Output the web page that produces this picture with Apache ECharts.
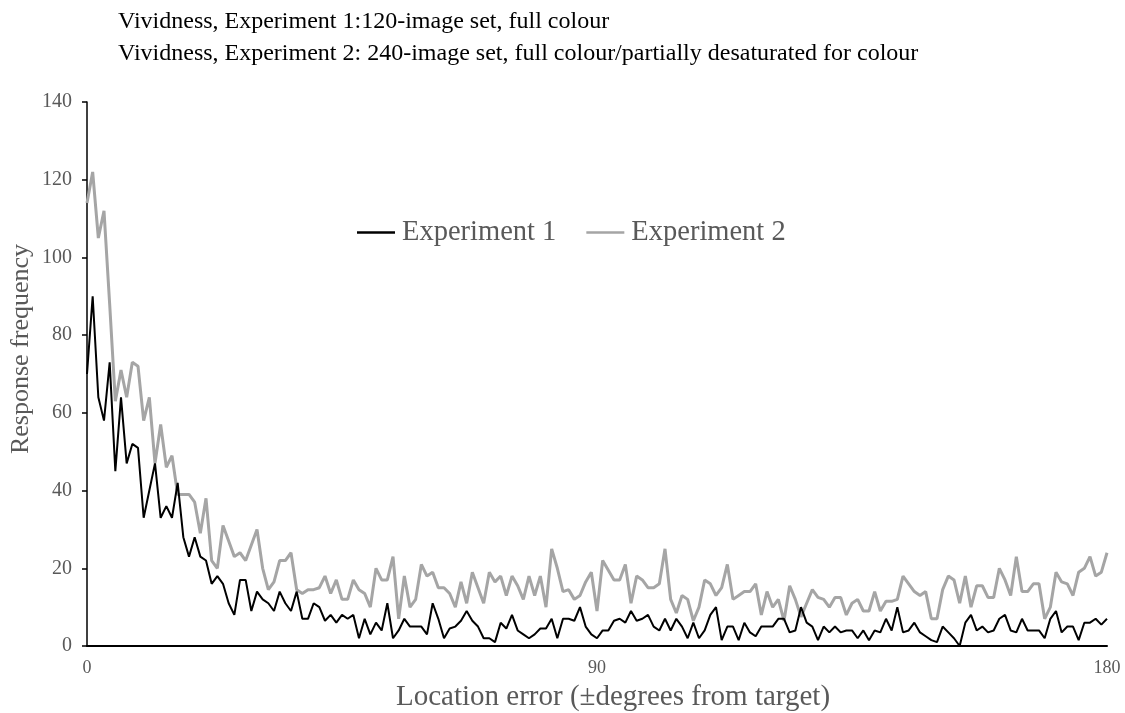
<!DOCTYPE html>
<html>
<head>
<meta charset="utf-8">
<script src="https://cdn.jsdelivr.net/npm/echarts@6/dist/echarts.min.js"></script>
<style>
html,body{margin:0;padding:0;background:#fff;}
#chart{width:1125px;height:713px;}
</style>
</head>
<body>
<div id="chart"></div>
<script>
// Location error categories (degrees 0..180)
const degrees = Array.from({length: 181}, (_, i) => String(i));

// Experiment 1 response frequency (black line)
const exp1 = [
  70, 90, 64, 58, 73, 45, 64, 47, 52, 51,
  33, 40, 47, 33, 36, 33, 42, 28, 23, 28,
  23, 22, 16, 18, 16, 11, 8, 17, 17, 9,
  14, 12, 11, 9, 14, 11, 9, 14, 7, 7,
  11, 10, 6.5, 8, 6, 8, 7, 8, 2, 7,
  3, 6, 4, 11, 2, 4, 7, 5, 5, 5,
  3, 11, 7, 2, 4.5, 5, 6.5, 9, 6.5, 5,
  2, 2, 1, 6, 4.5, 8, 4, 3, 2, 3,
  4.5, 4.5, 7, 2, 7, 7, 6.5, 10, 5, 3,
  2, 4, 4, 6.5, 7, 6, 9, 6.5, 7, 8,
  5, 4, 7, 4, 7, 5, 2, 6, 2, 4,
  8, 10, 1.5, 5, 5, 1.5, 6, 3.5, 2.5, 5,
  5, 5, 7, 7, 3.5, 4, 10, 6, 5, 1.5,
  5, 3.5, 5, 3.5, 4, 4, 2, 4, 1.5, 4,
  3.5, 7, 4, 10, 3.5, 4, 6, 3.5, 2.5, 1.5,
  1, 5, 3.5, 2, 0, 6, 8, 4, 5, 3.5,
  4, 7, 8, 4, 3.5, 7, 4, 4, 4, 2,
  7, 9, 3.5, 5, 5, 1.5, 6, 6, 7, 5.5,
  7
];

// Experiment 2 response frequency (grey line)
const exp2 = [
  114, 122, 105, 112, 88, 63, 71, 64, 73, 72,
  58, 64, 47, 57, 46, 49, 39, 39, 39, 37,
  29, 38, 22, 20, 31, 27, 23, 24, 22, 26,
  30, 20, 14.5, 16.5, 22, 22, 24, 14.5, 13.5, 14.5,
  14.5, 15, 18, 13.5, 17, 12, 12, 17, 14.5, 13.5,
  10, 20, 17, 17, 23, 7, 18, 10, 12, 21,
  18, 19, 15, 15, 13.5, 10, 16.5, 11, 19, 15,
  11, 19, 16.5, 18, 13, 18, 15.5, 12, 18, 13,
  18, 10, 25, 20, 14, 14.5, 12, 13, 16.5, 19,
  9, 22, 19.5, 17, 17, 21, 11, 18, 17, 15,
  15, 16, 25, 12, 8.5, 13, 12, 6.5, 10, 17,
  16, 13, 15, 21, 12, 13, 14, 14, 16, 8,
  14, 10, 12, 6.5, 15.5, 12, 7.5, 11, 14.5, 12.5,
  12, 10, 12.5, 12.5, 8, 11, 12, 9, 9, 14,
  9, 11.5, 11.5, 12, 18, 16, 14, 13, 14, 7,
  7, 14.5, 18, 17, 11, 18, 10, 15.5, 15.5, 12.5,
  12.5, 20, 17, 13, 23, 14, 14, 16, 16, 7,
  10, 19, 16.5, 16, 13, 19, 20, 23, 18, 19,
  24
];

const yTicks = [0, 20, 40, 60, 80, 100, 120, 140];

const serif = '"Liberation Serif", "DejaVu Serif", serif';
const chart = echarts.init(document.getElementById('chart'));
chart.setOption({
  animation: false,
  backgroundColor: '#fff',
  title: {
    text: 'Vividness, Experiment 1:120-image set, full colour\nVividness, Experiment 2: 240-image set, full colour/partially desaturated for colour',
    left: 113,
    top: 1,
    textStyle: { fontFamily: serif, fontSize: 24, fontWeight: 'normal', color: '#000', lineHeight: 32 }
  },
  legend: {
    top: 213,
    left: 352,
    itemWidth: 38,
    itemHeight: 2.5,
    itemGap: 30,
    icon: 'rect',
    textStyle: { fontFamily: serif, fontSize: 28.5, color: '#595959', padding: [0, 0, 0, 2] },
    data: ['Experiment 1', 'Experiment 2']
  },
  graphic: [
    {
      type: 'text',
      x: 21,
      y: 349,
      rotation: Math.PI / 2,
      style: {
        text: 'Response frequency',
        font: '26px "Liberation Serif", serif',
        fill: '#595959',
        align: 'center',
        verticalAlign: 'middle'
      }
    },
    {
      type: 'text',
      x: 613,
      y: 697,
      style: {
        text: 'Location error (±degrees from target)',
        font: '29px "Liberation Serif", serif',
        fill: '#595959',
        align: 'center',
        verticalAlign: 'middle'
      }
    }
  ],
  grid: { left: 87, right: 18, top: 102, bottom: 67, containLabel: false },
  xAxis: {
    type: 'category',
    data: degrees,
    boundaryGap: false,
    axisLine: { lineStyle: { color: '#000', width: 2 } },
    axisTick: { show: false },
    axisLabel: {
      interval: 89,
      margin: 13,
      fontFamily: serif, fontSize: 18, color: '#595959'
    },
    splitLine: { show: false }
  },
  yAxis: {
    type: 'value',
    min: yTicks[0],
    max: yTicks[yTicks.length - 1],
    interval: 20,
    axisLine: { show: true, lineStyle: { color: '#000', width: 1.5 } },
    axisTick: { show: true, inside: false, length: 5, lineStyle: { color: '#000', width: 1.5 } },
    axisLabel: { margin: 15, fontFamily: serif, fontSize: 20, color: '#595959' },
    splitLine: { show: false }
  },
  series: [
    {
      name: 'Experiment 1',
      type: 'line',
      data: exp1,
      symbol: 'none',
      z: 3,
      lineStyle: { color: '#000000', width: 2 },
      itemStyle: { color: '#000000' }
    },
    {
      name: 'Experiment 2',
      type: 'line',
      data: exp2,
      symbol: 'none',
      z: 2,
      lineStyle: { color: '#a5a5a5', width: 3 },
      itemStyle: { color: '#a5a5a5' }
    }
  ]
});
</script>
</body>
</html>
